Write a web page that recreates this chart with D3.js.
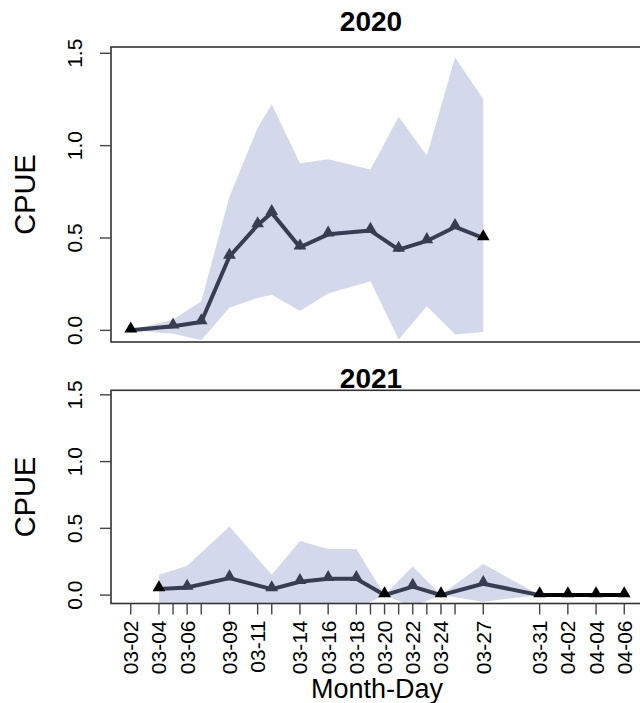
<!doctype html>
<html lang="en">
<head>
    <meta charset="utf-8">
    <title>CPUE by Month-Day</title>
    <script src="https://d3js.org/d3.v7.min.js"></script>
    <style>
        body { margin: 0; padding: 0; background: white; }
        text { font-family: "Liberation Sans", Arial, sans-serif; fill: #000; }
    </style>
</head>
<body>
    <div class="home"></div>
    <script>
        // dates sampled in each year
        const dates2020 = ["03-02","03-05","03-07","03-09","03-11","03-12","03-14","03-16","03-19","03-21","03-23","03-25","03-27"];
        const cpue2020  = [0.0, 0.022, 0.045, 0.40, 0.57, 0.636, 0.45, 0.52, 0.54, 0.437, 0.484, 0.56, 0.50];
        const upper2020 = [0.0, 0.058, 0.157, 0.723, 1.097, 1.224, 0.904, 0.926, 0.871, 1.157, 0.947, 1.477, 1.253];
        const lower2020 = [0.0, -0.018, -0.054, 0.123, 0.175, 0.193, 0.105, 0.199, 0.266, -0.049, 0.130, -0.023, -0.009];

        const dates2021 = ["03-04","03-06","03-09","03-12","03-14","03-16","03-18","03-20","03-22","03-24","03-27","03-31","04-02","04-04","04-06"];
        const cpue2021  = [0.045, 0.057, 0.127, 0.045, 0.10, 0.122, 0.122, 0.0, 0.064, 0.0, 0.085, 0.0, 0.0, 0.0, 0.0];
        const upper2021 = [0.152, 0.219, 0.513, 0.152, 0.406, 0.346, 0.346, 0.0, 0.214, 0.0, 0.232, 0.0, null, null, null];
        const lower2021 = [-0.07, -0.105, -0.259, -0.07, -0.206, -0.102, -0.102, 0.0, -0.086, 0.0, -0.05, 0.0, null, null, null];

        // x axis ticks (all sampled dates) and the labels R kept
        const tickDates  = ["03-02","03-04","03-05","03-06","03-07","03-09","03-11","03-12","03-14","03-16","03-18","03-19","03-20","03-21","03-22","03-23","03-24","03-25","03-27","03-31","04-02","04-04","04-06"];
        const tickLabels = ["03-02","03-04","","03-06","","03-09","03-11","","03-14","03-16","03-18","","03-20","","03-22","","03-24","","03-27","03-31","04-02","04-04","04-06"];
        const yTicks = [0, 0.5, 1.0, 1.5];

        const width = 640, height = 703;
        const svg = d3.select(".home").append("svg")
            .attr("width", width)
            .attr("height", height);

        // month-day -> days since 03-02
        const origin = new Date(2021, 2, 2);
        function dayOf(md) {
            const [m, d] = md.split("-").map(Number);
            return d3.timeDay.count(origin, new Date(2021, m - 1, d));
        }

        const x = d3.scaleLinear().domain([-1.4, 36.4]).range([111, 644]);

        const bandColor = "#d3d9ea";
        const lineColor = "#383d52";

        const panels = [
            {title: "2020", dates: dates2020, cpue: cpue2020, upper: upper2020, lower: lower2020,
             top: 47, bottom: 342, titleY: 31, xAxis: false},
            {title: "2021", dates: dates2021, cpue: cpue2021, upper: upper2021, lower: lower2021,
             top: 390.3, bottom: 603.5, titleY: 388, xAxis: true}
        ];

        panels.forEach(function (p) {
            const y = d3.scaleLinear().domain([-0.063, 1.534]).range([p.bottom, p.top]);
            const g = svg.append("g");

            const clipId = "clip" + p.title;
            svg.append("clipPath").attr("id", clipId)
                .append("rect")
                .attr("x", 111).attr("y", p.top)
                .attr("width", 540).attr("height", p.bottom - p.top);

            const rows = p.dates.map((d, i) => ({
                day: dayOf(d), v: p.cpue[i], lo: p.lower[i], hi: p.upper[i]
            }));

            const plot = g.append("g").attr("clip-path", "url(#" + clipId + ")");

            // confidence band
            const area = d3.area()
                .defined(d => d.hi !== null)
                .x(d => x(d.day))
                .y0(d => y(d.lo))
                .y1(d => y(d.hi));
            plot.append("path")
                .datum(rows)
                .attr("d", area)
                .attr("fill", bandColor);

            // line segments, black where both ends sit at zero
            const segs = d3.pairs(rows);
            plot.selectAll(".seg")
                .data(segs)
                .join("line")
                .attr("class", "seg")
                .attr("x1", d => x(d[0].day)).attr("y1", d => y(d[0].v))
                .attr("x2", d => x(d[1].day)).attr("y2", d => y(d[1].v))
                .attr("stroke", d => (d[0].v === 0 && d[1].v === 0) ? "#000" : lineColor)
                .attr("stroke-width", 4)
                .attr("stroke-linecap", "round");

            // triangle markers
            const tri = d3.symbol().type(d3.symbolTriangle).size(70);
            plot.selectAll(".pt")
                .data(rows)
                .join("path")
                .attr("class", "pt")
                .attr("d", tri)
                .attr("transform", d => "translate(" + x(d.day) + "," + (y(d.v) - 1.5) + ")")
                .attr("fill", (d, i) => (i === 0 || i === rows.length - 1 || d.v === 0) ? "#000" : lineColor);

            // frame
            g.append("rect")
                .attr("x", 111).attr("y", p.top)
                .attr("width", 540).attr("height", p.bottom - p.top)
                .attr("fill", "none")
                .attr("stroke", "#333")
                .attr("stroke-width", 1.6);

            // y axis
            g.selectAll(".ytick")
                .data(yTicks)
                .join("line")
                .attr("x1", 100).attr("x2", 111)
                .attr("y1", d => y(d)).attr("y2", d => y(d))
                .attr("stroke", "#444").attr("stroke-width", 1.4);
            g.selectAll(".ylab")
                .data(yTicks)
                .join("text")
                .attr("transform", d => "translate(82," + y(d) + ") rotate(-90)")
                .attr("text-anchor", "middle")
                .style("font-size", "21px")
                .text(d3.format(".1f"));

            g.append("text")
                .attr("transform", "translate(35," + ((p.top + p.bottom) / 2) + ") rotate(-90)")
                .attr("text-anchor", "middle")
                .style("font-size", "29px")
                .text("CPUE");

            // title
            g.append("text")
                .attr("x", 371).attr("y", p.titleY)
                .attr("text-anchor", "middle")
                .style("font-size", "28px")
                .style("font-weight", "bold")
                .text(p.title);

            // x axis only on the lower panel
            if (p.xAxis) {
                g.selectAll(".xtick")
                    .data(tickDates)
                    .join("line")
                    .attr("x1", d => x(dayOf(d))).attr("x2", d => x(dayOf(d)))
                    .attr("y1", p.bottom).attr("y2", p.bottom + 11)
                    .attr("stroke", "#444").attr("stroke-width", 1.4);
                g.selectAll(".xlab")
                    .data(tickDates)
                    .join("text")
                    .attr("transform", d => "translate(" + (x(dayOf(d)) + 7.5) + "," + (p.bottom + 17) + ") rotate(-90)")
                    .attr("text-anchor", "end")
                    .style("font-size", "21px")
                    .text((d, i) => tickLabels[i]);

                g.append("text")
                    .attr("x", 377).attr("y", 698)
                    .attr("text-anchor", "middle")
                    .style("font-size", "27px")
                    .text("Month-Day");
            }
        });
    </script>
</body>
</html>
